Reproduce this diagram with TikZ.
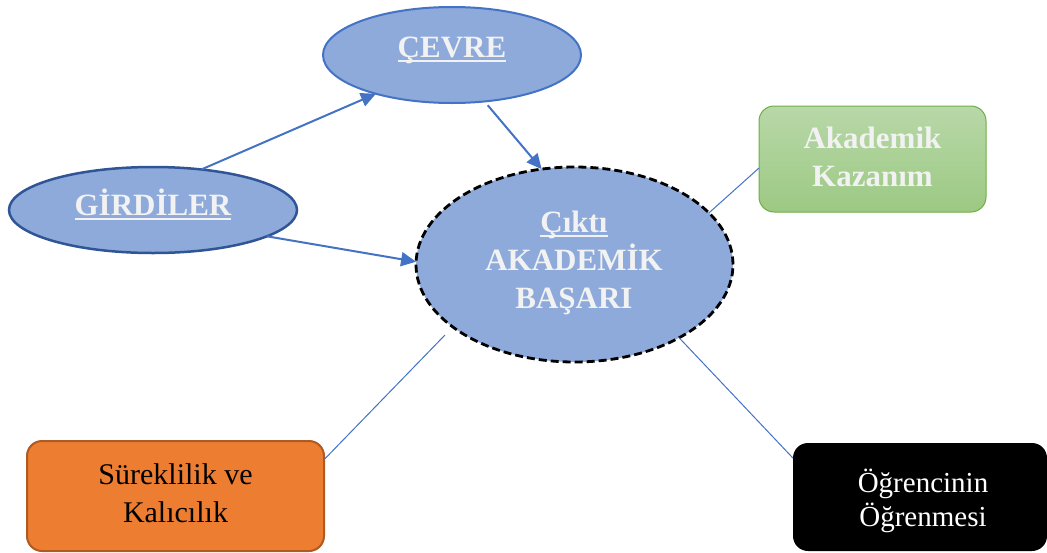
\documentclass[tikz,border=0pt]{standalone}
\usepackage{fontspec}
\setmainfont{Liberation Serif}
\usetikzlibrary{shapes.geometric,arrows.meta,calc}
\newcommand{\myul}[1]{\leavevmode\setbox0=\hbox{#1}\rlap{\rule[-5pt]{\wd0}{2pt}}\box0}
\definecolor{ellfill}{HTML}{8EAADB}
\definecolor{ellline}{HTML}{4472C4}
\definecolor{girdline}{HTML}{2F5597}
\definecolor{textw}{HTML}{F2F2F2}
\definecolor{orfill}{HTML}{ED7D31}
\definecolor{orline}{HTML}{AE5A21}
\definecolor{grtop}{HTML}{B8D8A8}
\definecolor{grbot}{HTML}{9CC983}
\definecolor{grline}{HTML}{70AD47}
\begin{document}
\begin{tikzpicture}[x=1pt,y=-1pt,
  ell/.style={ellipse, fill=ellfill, draw=ellline, line width=2pt, inner sep=0pt, outer sep=0pt},
  boxnode/.style={rectangle, rounded corners=15pt, inner sep=0pt, outer sep=0pt},
  wtxt/.style={font=\fontsize{31}{38}\selectfont\bfseries, text=textw, inner sep=0pt, anchor=base},
  btxt/.style={font=\fontsize{30}{38}\selectfont, text=black, inner sep=0pt, anchor=base},
  otxt/.style={font=\fontsize{29}{34}\selectfont, text=white, inner sep=0pt, anchor=base},
  arr/.style={draw=ellline, line width=2pt, -{Triangle[length=15pt,width=14pt]}},
  conn/.style={draw=ellline, line width=1pt}]
\useasboundingbox (0,0) rectangle (1047,552);
\clip (0,0) rectangle (1047,552);

% ellipses
\node[ell, minimum width=258pt, minimum height=96pt] (cevre) at (452,55) {};
\node[ell, draw=girdline, line width=2.5pt, minimum width=288pt, minimum height=86pt] (gird) at (153,210) {};
\node[ell, draw=black, line width=2.8pt, dash pattern=on 8pt off 4pt, minimum width=317pt, minimum height=195pt] (cen) at (574.5,264.5) {};

% boxes
\node[boxnode, draw=grline, line width=1pt, top color=grtop, bottom color=grbot, minimum width=227pt, minimum height=106pt] (kaz) at (872.5,159) {};
\node[boxnode, draw=orline, line width=2pt, fill=orfill, minimum width=297pt, minimum height=110pt] (sur) at (175.5,496) {};
\node[boxnode, fill=black, minimum width=254pt, minimum height=108pt] (ogr) at (920,497) {};

% texts
\node[wtxt] (cevre-t) at (452,57) {\myul{ÇEVRE}};
\node[wtxt] (gird-t) at (153,215) {\myul{GİRDİLER}};
\node[wtxt] (cen-t1) at (574,232) {\myul{Çıktı}};
\node[wtxt] (cen-t2) at (574,270) {AKADEMİK};
\node[wtxt] (cen-t3) at (574,308) {BAŞARI};
\node[wtxt] (kaz-t1) at (872.5,148) {Akademik};
\node[wtxt] (kaz-t2) at (872.5,186) {Kazanım};
\node[btxt] (sur-t1) at (175.5,484) {Süreklilik ve};
\node[btxt] (sur-t2) at (175.5,522) {Kalıcılık};
\node[otxt] (ogr-t1) at (923,492) {Öğrencinin};
\node[otxt] (ogr-t2) at (923,526) {Öğrenmesi};

% arrows
\draw[arr] (gird.40) -- (cevre.207);
\draw[arr] (gird.347) -- (cen.179);
\draw[arr, shorten <=5pt] (cevre.305) -- (cen.109);

% connectors
\draw[conn] (cen.21) -- ($(kaz.north west)!0.585!(kaz.south west)$);
\coordinate (s-end) at (445,335);
\draw[conn] ($(sur.north east)!0.17!(sur.south east)$) -- (s-end);
\draw[conn] (cen.325) -- ($(ogr.north west)!0.14!(ogr.south west)$);
\end{tikzpicture}
\end{document}
